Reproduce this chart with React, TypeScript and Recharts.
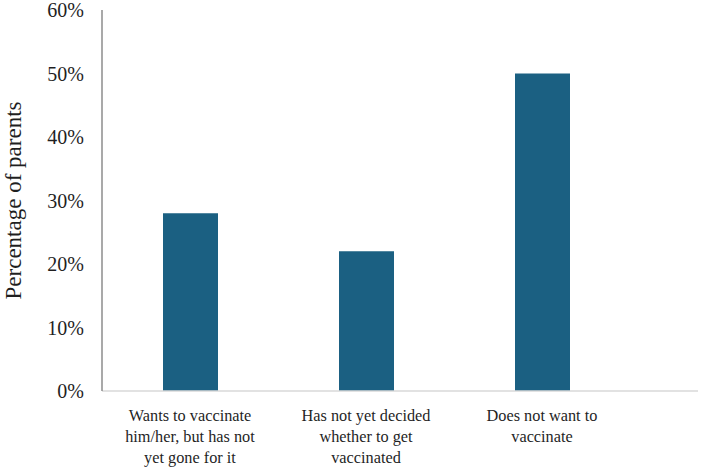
import React from 'react';
import { BarChart, Bar, XAxis, YAxis } from 'recharts';

const categoryLines: string[][] = [
  ['Wants to vaccinate', 'him/her, but has not', 'yet gone for it'],
  ['Has not yet decided', 'whether to get', 'vaccinated'],
  ['Does not want to', 'vaccinate'],
];
const categories: string[] = categoryLines.map((l) => l.join(' '));
const values: number[] = [28, 22, 50];
const yTicks: number[] = [0, 10, 20, 30, 40, 50, 60];
const yLabel = 'Percentage of parents';

const data = categories.map((c, i) => ({ name: c, value: values[i] }));

const FONT = '"Liberation Serif", "Times New Roman", serif';
const TEXT = '#1f1f1f';

const XTick = (props: any) => {
  const { x, y, payload } = props;
  const idx = categories.indexOf(payload.value);
  const lines = idx >= 0 ? categoryLines[idx] : [String(payload.value)];
  return (
    <g>
      {lines.map((ln, i) => (
        <text
          key={i}
          x={x}
          y={y + 22 + i * 21}
          textAnchor="middle"
          style={{ fontFamily: FONT, fontSize: 16.3, fill: TEXT }}
        >
          {ln}
        </text>
      ))}
    </g>
  );
};

const YLabel = (props: any) => {
  const vb = props.viewBox || {};
  const cx = 13;
  const cy = vb.y + vb.height / 2;
  return (
    <text
      x={cx}
      y={cy}
      transform={`rotate(-90, ${cx}, ${cy})`}
      textAnchor="middle"
      dominantBaseline="central"
      style={{ fontFamily: FONT, fontSize: 23, fill: TEXT }}
    >
      {yLabel}
    </text>
  );
};

export default function App() {
  return (
    <div style={{ position: 'absolute', left: 0, top: 0, background: '#fff' }}>
      <BarChart
        width={702}
        height={472}
        data={data}
        margin={{ top: 10, right: 4, bottom: 0, left: 0 }}
      >
        <XAxis
          dataKey="name"
          axisLine={{ stroke: '#d9d9d9', strokeWidth: 1.5 }}
          tickLine={false}
          tick={<XTick />}
          interval={0}
          padding={{ left: 0, right: 68 }}
          height={81}
        />
        <YAxis
          width={102}
          domain={[0, 60]}
          ticks={yTicks}
          interval={0}
          tickFormatter={(v: number) => `${v}%`}
          axisLine={{ stroke: '#8c8c8c', strokeWidth: 1.5 }}
          tickLine={false}
          tickMargin={12}
          tick={{ fontFamily: FONT, fontSize: 20, fill: TEXT }}
          label={<YLabel />}
        />
        <Bar dataKey="value" fill="#1b6082" barSize={55} isAnimationActive={false} />
      </BarChart>
    </div>
  );
}
